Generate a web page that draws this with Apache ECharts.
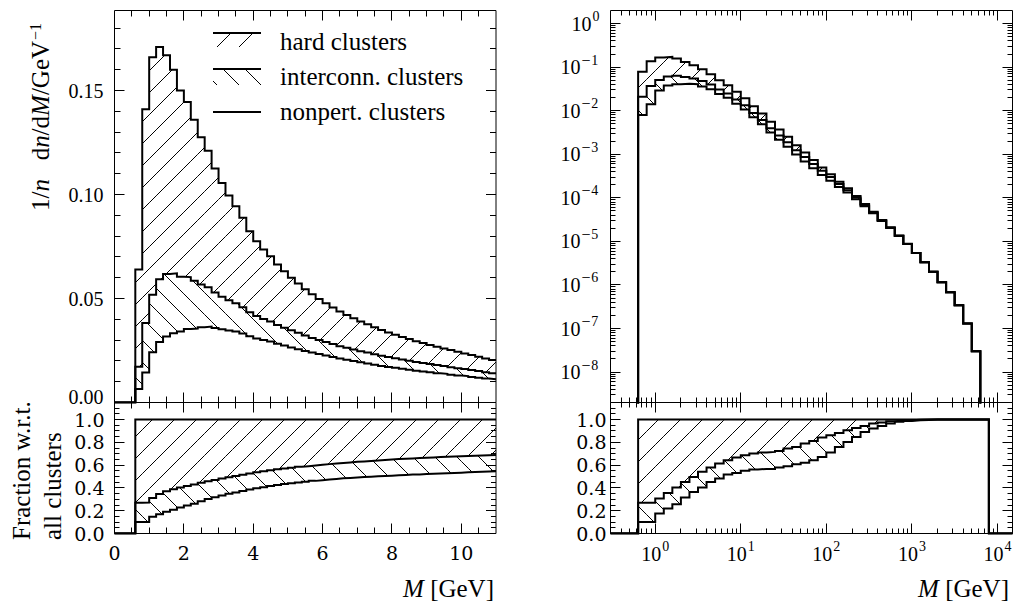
<!DOCTYPE html>
<html>
<head>
<meta charset="utf-8">
<script src="https://cdn.jsdelivr.net/npm/echarts@6/dist/echarts.min.js"></script>
<style>
html,body{margin:0;padding:0;background:#ffffff;}
#chart{width:1016px;height:605px;}
</style>
</head>
<body>
<div id="chart"></div>
<script>
// ---------------- DATA ----------------
// Left panels: linear mass bins [GeV]
const leftBinEdges = [0.6,0.8,1.0,1.2,1.4,1.6,1.8,2.0,2.2,2.4,2.6,2.8,3.0,3.2,3.4,3.6,3.8,4.0,4.2,4.4,4.6,4.8,5.0,5.2,5.4,5.6,5.8,6.0,6.2,6.4,6.6,6.8,7.0,7.2,7.4,7.6,7.8,8.0,8.2,8.4,8.6,8.8,9.0,9.2,9.4,9.6,9.8,10.0,10.2,10.4,10.6,10.8,11.0];
// 1/n dn/dM of all clusters (upper outline = hard + interconn. + nonpert.)
const leftTotal = [0.064,0.141,0.166,0.171,0.167,0.160,0.150,0.1445,0.136,0.1275,0.121,0.1125,0.1056,0.0995,0.0944,0.0888,0.0824,0.0775,0.0736,0.0703,0.0663,0.0631,0.0600,0.0572,0.0545,0.0520,0.0498,0.0477,0.0457,0.0438,0.0421,0.0405,0.0390,0.0376,0.0362,0.0349,0.0337,0.0326,0.0315,0.0305,0.0295,0.0286,0.0277,0.0268,0.0260,0.0252,0.0244,0.0236,0.0228,0.0220,0.0212,0.0204];
// interconn. + nonpert. clusters (middle outline)
const leftNonpertInterconn = [0.0172,0.0382,0.0518,0.0593,0.0618,0.0621,0.0605,0.0603,0.0586,0.0567,0.0554,0.0529,0.0509,0.0492,0.0477,0.0458,0.0434,0.0416,0.0402,0.0390,0.0373,0.0360,0.0347,0.0335,0.0322,0.0310,0.0300,0.0291,0.0281,0.0271,0.0263,0.0255,0.0247,0.0240,0.0232,0.0225,0.0219,0.0213,0.0207,0.0201,0.0195,0.0190,0.0185,0.0180,0.0175,0.0170,0.0165,0.0161,0.0156,0.0151,0.0146,0.0141];
// nonpert. clusters (lowest outline)
const leftNonpert = [0.0065,0.0144,0.0242,0.0291,0.0317,0.0333,0.0342,0.0354,0.0356,0.0362,0.0365,0.0358,0.0352,0.0346,0.0341,0.0332,0.0318,0.0308,0.0300,0.0293,0.0282,0.0274,0.0265,0.0256,0.0248,0.0240,0.0233,0.0226,0.0219,0.0212,0.0205,0.0199,0.0193,0.0188,0.0182,0.0176,0.0171,0.0167,0.0162,0.0158,0.0153,0.0149,0.0145,0.0141,0.0138,0.0134,0.0130,0.0127,0.0123,0.0119,0.0115,0.0112];
// fractions w.r.t. all clusters
const leftFracAll = [1,1,1,1,1,1,1,1,1,1,1,1,1,1,1,1,1,1,1,1,1,1,1,1,1,1,1,1,1,1,1,1,1,1,1,1,1,1,1,1,1,1,1,1,1,1,1,1,1,1,1,1];
const leftFracNonpertInterconn = [0.269,0.271,0.312,0.347,0.370,0.388,0.403,0.417,0.431,0.445,0.458,0.470,0.482,0.494,0.505,0.516,0.527,0.537,0.546,0.555,0.563,0.571,0.578,0.585,0.591,0.597,0.603,0.609,0.614,0.619,0.624,0.629,0.633,0.637,0.641,0.645,0.649,0.653,0.656,0.659,0.662,0.665,0.668,0.671,0.673,0.676,0.678,0.681,0.683,0.685,0.687,0.689];
const leftFracNonpert = [0.102,0.102,0.146,0.170,0.190,0.208,0.228,0.245,0.262,0.284,0.302,0.318,0.333,0.348,0.361,0.374,0.386,0.397,0.407,0.417,0.426,0.434,0.441,0.448,0.455,0.462,0.468,0.474,0.479,0.484,0.488,0.492,0.496,0.499,0.502,0.505,0.508,0.511,0.514,0.517,0.519,0.522,0.524,0.527,0.529,0.532,0.534,0.537,0.539,0.542,0.544,0.547];

// Right panels: logarithmic mass bins [GeV]
const rightBinEdges = [0.631,0.794,1,1.259,1.585,1.995,2.512,3.162,3.981,5.012,6.31,7.943,10,12.59,15.85,19.95,25.12,31.62,39.81,50.12,63.1,79.43,100,125.9,158.5,199.5,251.2,316.2,398.1,501.2,631,794.3,1000,1259,1585,1995,2512,3162,3981,5012,6310,7943];
const rightTotal = [0.078,0.137,0.166,0.172,0.158,0.132,0.111,0.089,0.069,0.050,0.0385,0.0271,0.0194,0.0127,0.00865,0.00556,0.00371,0.00252,0.00162,0.0011,0.00074,0.0005,0.000346,0.000234,0.000165,0.00011,7.2e-5,4.8e-5,3.1e-5,2.1e-5,1.36e-5,8.8e-6,5.4e-6,3.3e-6,2.0e-6,1.15e-6,6.8e-7,3.4e-7,1.3e-7,3.0e-8,1e-9];
const rightNonpertInterconn = [0.0210,0.0369,0.0510,0.0612,0.0637,0.0598,0.0552,0.0481,0.0400,0.0307,0.0248,0.0181,0.0133,0.00892,0.00615,0.00398,0.00269,0.00188,0.00123,0.000869,0.000602,0.000421,0.000299,0.000207,0.000149,0.000102,6.8e-5,4.63e-5,3.02e-5,2.07e-5,1.35e-5,8.76e-6,5.4e-6,3.3e-6,2.0e-6,1.15e-6,6.8e-7,3.4e-7,1.3e-7,3.0e-8,1e-9];
const rightNonpert = [0.0080,0.0140,0.0291,0.0377,0.0406,0.0417,0.0405,0.0359,0.0313,0.0241,0.0199,0.0144,0.0107,0.00712,0.0049,0.00315,0.00215,0.00149,0.000985,0.000682,0.000476,0.000336,0.000246,0.000178,0.000133,9.33e-5,6.42e-5,4.42e-5,2.93e-5,2.03e-5,1.33e-5,8.69e-6,5.4e-6,3.3e-6,2.0e-6,1.15e-6,6.8e-7,3.4e-7,1.3e-7,3.0e-8,1e-9];
const rightFracAll = [1,1,1,1,1,1,1,1,1,1,1,1,1,1,1,1,1,1,1,1,1,1,1,1,1,1,1,1,1,1,1,1,1,1,1,1,1,1,1,1,1];
const rightFracNonpertInterconn = [0.269,0.269,0.307,0.356,0.403,0.453,0.497,0.541,0.579,0.614,0.643,0.667,0.687,0.702,0.711,0.716,0.725,0.746,0.760,0.790,0.813,0.842,0.863,0.883,0.906,0.927,0.944,0.965,0.974,0.985,0.991,0.995,0.998,1,1,1,1,1,1,1,1];
const rightFracNonpert = [0.102,0.102,0.175,0.219,0.257,0.316,0.365,0.403,0.453,0.482,0.518,0.532,0.550,0.561,0.567,0.567,0.579,0.590,0.608,0.620,0.643,0.672,0.710,0.760,0.804,0.848,0.891,0.921,0.944,0.965,0.980,0.988,0.994,0.997,1,1,1,1,1,1,1];

// Tick labels
const leftYLabelDigits = 2;           // 0.00 0.05 0.10 0.15
const fracYLabelDigits = 1;           // 0.0 ... 1.0
const logXExponents = [0,1,2,3,4];
const logYExponents = [0,-1,-2,-3,-4,-5,-6,-7,-8];
const legendNames = ['hard clusters','interconn. clusters','nonpert. clusters'];

// ---------------- STYLE ----------------
const FONT = "'Liberation Serif','DejaVu Serif',serif";
const FONT_WIDE = "'DejaVu Serif','Liberation Serif',serif";
const FS_TICK = 20, FS_TICK_LOW = 19, FS_SUP = 14, FS_TITLE = 25, FS_LEG = 25;

function hatchImage(dir, p, lw) {
  const c = document.createElement('canvas');
  c.width = p; c.height = p;
  const ctx = c.getContext('2d');
  ctx.strokeStyle = '#000'; ctx.lineWidth = lw;
  ctx.beginPath();
  for (let k = -1; k <= 1; k++) {
    if (dir === '/') { ctx.moveTo(k*p - 1, p + 1); ctx.lineTo(k*p + p + 1, -1); }
    else { ctx.moveTo(k*p - 1, -1); ctx.lineTo(k*p + p + 1, p + 1); }
  }
  ctx.stroke();
  return {image: c.toDataURL(), repeat: 'repeat', imageWidth: p, imageHeight: p};
}
const HATCH_HARD = hatchImage('/', 22, 1);
const HATCH_INTER = hatchImage('\\', 22, 1);

const measureCtx = document.createElement('canvas').getContext('2d');
function textW(t, fs) { measureCtx.font = fs + 'px ' + FONT; return measureCtx.measureText(t).width; }

// ---------------- helpers ----------------
function stepData(edges, vals, lead, tail, xEnd) {
  const d = [lead];
  for (let i = 0; i < vals.length; i++) d.push([edges[i], vals[i]]);
  if (tail === undefined) d.push([edges[vals.length], vals[vals.length - 1]]);
  else { d.push([edges[vals.length], tail]); d.push([xEnd, tail]); }
  return d;
}
function outlineSeries(name, gi, data) {
  return {
    name, type: 'line', xAxisIndex: gi, yAxisIndex: gi, data, step: 'end',
    symbol: 'none', showSymbol: false, animation: false, silent: true, clip: true, z: 4,
    lineStyle: {color: '#000', width: 2, join: 'miter', cap: 'butt'}
  };
}
function bandSeries(name, gi, edges, lo, hi, pattern) {
  return {
    name, type: 'custom', xAxisIndex: gi, yAxisIndex: gi, silent: true, animation: false, z: 2, clip: false,
    encode: {x: [0, 1], y: [2, 3]},
    data: lo.map((v, i) => [edges[i], edges[i + 1], v, hi[i]]),
    renderItem: function (params, api) {
      const cs = params.coordSys;
      if (!(api.value(3) > api.value(2))) return null;
      const pA = api.coord([api.value(0), api.value(3)]);
      const pB = api.coord([api.value(1), api.value(2)]);
      const x0 = Math.max(pA[0], cs.x), x1 = Math.min(pB[0], cs.x + cs.width);
      const y0 = Math.max(pA[1], cs.y), y1 = Math.min(pB[1], cs.y + cs.height);
      if (!(x1 > x0 && y1 > y0)) return null;
      return {type: 'rect', shape: {x: x0, y: y0, width: x1 - x0, height: y1 - y0}, style: {fill: pattern, stroke: null}};
    }
  };
}
function tickSeries(gi, ticks, refX, refY) {
  return {
    type: 'custom', xAxisIndex: gi, yAxisIndex: gi, silent: true, animation: false, clip: false, z: 6,
    encode: {x: 3, y: 4},
    data: ticks.map(t => [t[0], t[1], t[2], refX, refY]),
    renderItem: function (params, api) {
      const cs = params.coordSys;
      const isY = api.value(0), v = api.value(1), len = api.value(2);
      const st = {stroke: '#000', lineWidth: 1};
      if (isY === 0) {
        const px = Math.round(api.coord([v, refY])[0] - 0.5) + 0.5;
        const yb = cs.y + cs.height, yt = cs.y;
        return {type: 'group', children: [
          {type: 'line', shape: {x1: px, y1: yb, x2: px, y2: yb - len}, style: st},
          {type: 'line', shape: {x1: px, y1: yt, x2: px, y2: yt + len}, style: st}
        ]};
      }
      const py = Math.round(api.coord([refX, v])[1] - 0.5) + 0.5;
      const xl = cs.x, xr = cs.x + cs.width;
      return {type: 'group', children: [
        {type: 'line', shape: {x1: xl, y1: py, x2: xl + len, y2: py}, style: st},
        {type: 'line', shape: {x1: xr, y1: py, x2: xr - len, y2: py}, style: st}
      ]};
    }
  };
}
function linTicks(isY, from, to, step, majorEvery, lenMaj, lenMin) {
  const out = [];
  const n = Math.round((to - from) / step);
  for (let i = 0; i <= n; i++) {
    const v = +(from + i * step).toFixed(6);
    const major = Math.abs(v / majorEvery - Math.round(v / majorEvery)) < 1e-6;
    out.push([isY, v, major ? lenMaj : lenMin]);
  }
  return out;
}
function logTicks(isY, nFrom, nTo, lo, hi, lenMaj, lenMin) {
  const out = [];
  for (let n = nFrom; n <= nTo; n++) {
    for (let m = 1; m <= 9; m++) {
      const v = m * Math.pow(10, n);
      if (v > lo * 1.0001 && v < hi * 0.9999) out.push([isY, v, m === 1 ? lenMaj : lenMin]);
    }
  }
  return out;
}
function logLabelSeries(gi, isY, exps, refX, refY) {
  return {
    type: 'custom', xAxisIndex: gi, yAxisIndex: gi, silent: true, animation: false, clip: false, z: 6,
    encode: {x: 2, y: 3},
    data: exps.map(e => [isY, e, refX, refY]),
    renderItem: function (params, api) {
      const cs = params.coordSys;
      const e = api.value(1);
      const v = Math.pow(10, e);
      const expTxt = (e < 0 ? '\u2212' : '') + Math.abs(e);
      const wB = textW('10', FS_TICK), wE = textW(expTxt, FS_SUP) + (e < 0 ? 3 : 0);
      const base = {fill: '#000', fontFamily: FONT, verticalAlign: 'middle', align: 'left'};
      let x0, yc;
      if (api.value(0) === 0) {
        const px = api.coord([v, refY])[0];
        x0 = px - (wB + wE + 1) / 2;
        yc = cs.y + cs.height + 20;
      } else {
        const py = api.coord([refX, v])[1];
        x0 = cs.x - 11 - (wB + wE + 1);
        yc = py;
      }
      const kids = [{type: 'text', x: x0, y: yc, style: Object.assign({}, base, {text: '10', fontSize: FS_TICK})}];
      if (e < 0) {
        kids.push({type: 'text', x: x0 + wB + 1, y: yc - 7, style: Object.assign({}, base, {text: '\u2212', fontSize: FS_SUP + 2})});
        kids.push({type: 'text', x: x0 + wB + 1 + textW('\u2212', FS_SUP + 2) + 0.5, y: yc - 7, style: Object.assign({}, base, {text: String(-e), fontSize: FS_SUP})});
      } else {
        kids.push({type: 'text', x: x0 + wB + 1, y: yc - 7, style: Object.assign({}, base, {text: expTxt, fontSize: FS_SUP})});
      }
      return {type: 'group', children: kids};
    }
  };
}

// ---------------- build series ----------------
const TINY = 1e-12;
const series = [
  bandSeries('interconn. clusters', 0, leftBinEdges, leftNonpert, leftNonpertInterconn, HATCH_INTER),
  bandSeries('hard clusters', 0, leftBinEdges, leftNonpertInterconn, leftTotal, HATCH_HARD),
  outlineSeries('nonpert. clusters', 0, stepData(leftBinEdges, leftNonpert, [0, 0])),
  outlineSeries('nonpert.+interconn.', 0, stepData(leftBinEdges, leftNonpertInterconn, [0, 0])),
  outlineSeries('all clusters', 0, stepData(leftBinEdges, leftTotal, [0, 0])),
  bandSeries('interconn. fraction', 1, leftBinEdges, leftFracNonpert, leftFracNonpertInterconn, HATCH_INTER),
  bandSeries('hard fraction', 1, leftBinEdges, leftFracNonpertInterconn, leftFracAll, HATCH_HARD),
  outlineSeries('nonpert. fraction', 1, stepData(leftBinEdges, leftFracNonpert, [0, 0])),
  outlineSeries('nonpert.+interconn. fraction', 1, stepData(leftBinEdges, leftFracNonpertInterconn, [0, 0])),
  outlineSeries('all fraction', 1, stepData(leftBinEdges, leftFracAll, [0, 0])),
  bandSeries('interconn. clusters (log)', 2, rightBinEdges, rightNonpert, rightNonpertInterconn, HATCH_INTER),
  bandSeries('hard clusters (log)', 2, rightBinEdges, rightNonpertInterconn, rightTotal, HATCH_HARD),
  outlineSeries('nonpert. clusters (log)', 2, stepData(rightBinEdges, rightNonpert, [0.3, TINY], TINY, 15000)),
  outlineSeries('nonpert.+interconn. (log)', 2, stepData(rightBinEdges, rightNonpertInterconn, [0.3, TINY], TINY, 15000)),
  outlineSeries('all clusters (log)', 2, stepData(rightBinEdges, rightTotal, [0.3, TINY], TINY, 15000)),
  bandSeries('interconn. fraction (log)', 3, rightBinEdges, rightFracNonpert, rightFracNonpertInterconn, HATCH_INTER),
  bandSeries('hard fraction (log)', 3, rightBinEdges, rightFracNonpertInterconn, rightFracAll, HATCH_HARD),
  outlineSeries('nonpert. fraction (log)', 3, stepData(rightBinEdges, rightFracNonpert, [0.3, 0], 0, 15000)),
  outlineSeries('nonpert.+interconn. fraction (log)', 3, stepData(rightBinEdges, rightFracNonpertInterconn, [0.3, 0], 0, 15000)),
  outlineSeries('all fraction (log)', 3, stepData(rightBinEdges, rightFracAll, [0.3, 0], 0, 15000)),
  tickSeries(0, linTicks(0, 0.5, 10.5, 0.5, 2, 10, 6).concat(linTicks(1, 0.01, 0.18, 0.01, 0.05, 10, 6)), 5, 0.1),
  tickSeries(1, linTicks(0, 0.5, 10.5, 0.5, 2, 10, 6).concat(linTicks(1, 0.05, 1.10, 0.05, 0.2, 10, 5)), 5, 0.5),
  tickSeries(2, logTicks(0, -1, 4, 0.3, 15000, 10, 5).concat(logTicks(1, -9, 0, 2e-9, 2, 10, 5)), 10, 1e-4),
  tickSeries(3, logTicks(0, -1, 4, 0.3, 15000, 10, 5).concat(linTicks(1, 0.05, 1.10, 0.05, 0.2, 10, 5)), 10, 0.5),
  logLabelSeries(2, 1, logYExponents, 10, 1e-4),
  logLabelSeries(3, 0, logXExponents, 10, 0.5)
];

// ---------------- axes ----------------
const noLine = {axisLine: {show: false}, axisTick: {show: false}, splitLine: {show: false}, minorTick: {show: false}};
const lab = (extra) => Object.assign({color: '#000', fontFamily: FONT, fontSize: FS_TICK, lineHeight: 15}, extra);
const labLow = (extra) => Object.assign({color: '#000', fontFamily: FONT_WIDE, fontSize: FS_TICK_LOW, lineHeight: 15}, extra);
// the 0.00 label sits right above the 1.0 label of the lower panel: nudge it up a little
const seamRich = {up: {fontFamily: FONT, fontSize: FS_TICK, color: '#000', padding: [0, 0, 11, 0]}};
const xAxis = [
  Object.assign({gridIndex: 0, type: 'value', min: 0, max: 11, axisLabel: {show: false}}, noLine),
  Object.assign({gridIndex: 1, type: 'value', min: 0, max: 11, interval: 2,
    axisLabel: labLow({margin: 12, showMaxLabel: false, formatter: v => String(v)})}, noLine),
  Object.assign({gridIndex: 2, type: 'log', logBase: 10, min: 0.3, max: 15000, axisLabel: {show: false}}, noLine),
  Object.assign({gridIndex: 3, type: 'log', logBase: 10, min: 0.3, max: 15000, axisLabel: {show: false}}, noLine)
];
const yAxis = [
  Object.assign({gridIndex: 0, type: 'value', min: 0, max: 0.1885, interval: 0.05,
    axisLabel: lab({margin: 11, showMaxLabel: false, rich: seamRich,
      formatter: v => v === 0 ? '{up|' + v.toFixed(leftYLabelDigits) + '}' : v.toFixed(leftYLabelDigits)})}, noLine),
  Object.assign({gridIndex: 1, type: 'value', min: 0, max: 1.15, interval: 0.2,
    axisLabel: labLow({margin: 10, showMaxLabel: false, formatter: v => v.toFixed(fracYLabelDigits)})}, noLine),
  Object.assign({gridIndex: 2, type: 'log', logBase: 10, min: 2e-9, max: 2, axisLabel: {show: false}}, noLine),
  Object.assign({gridIndex: 3, type: 'value', min: 0, max: 1.15, interval: 0.2,
    axisLabel: labLow({margin: 4, showMaxLabel: false, formatter: v => v.toFixed(fracYLabelDigits)})}, noLine)
];
const gridBase = {show: true, borderColor: '#000', borderWidth: 1, backgroundColor: 'transparent', containLabel: false, outerBoundsMode: 'none'};
const grid = [
  Object.assign({left: 114.5, top: 10.5, width: 381.5, height: 392}, gridBase),
  Object.assign({left: 114.5, top: 402.5, width: 381.5, height: 131}, gridBase),
  Object.assign({left: 610.5, top: 10.5, width: 402, height: 392}, gridBase),
  Object.assign({left: 610.5, top: 402.5, width: 402, height: 131}, gridBase)
];

// ---------------- legend + titles (graphic) ----------------
const tStyle = (extra) => Object.assign({fill: '#000', fontFamily: FONT}, extra);
const graphic = [
  {type: 'rect', shape: {x: 213, y: 33, width: 48, height: 14}, style: {fill: HATCH_HARD, stroke: null}, silent: true},
  {type: 'line', shape: {x1: 213, y1: 33, x2: 261, y2: 33}, style: {stroke: '#000', lineWidth: 2}, silent: true},
  {type: 'rect', shape: {x: 213, y: 69, width: 48, height: 16}, style: {fill: HATCH_INTER, stroke: null}, silent: true},
  {type: 'line', shape: {x1: 213, y1: 69, x2: 261, y2: 69}, style: {stroke: '#000', lineWidth: 2}, silent: true},
  {type: 'line', shape: {x1: 213, y1: 112, x2: 261, y2: 112}, style: {stroke: '#000', lineWidth: 2}, silent: true},
  {type: 'text', x: 280, y: 41, style: tStyle({text: legendNames[0], fontSize: FS_LEG, verticalAlign: 'middle'}), silent: true},
  {type: 'text', x: 280, y: 76, style: tStyle({text: legendNames[1], fontSize: FS_LEG, verticalAlign: 'middle'}), silent: true},
  {type: 'text', x: 280, y: 111, style: tStyle({text: legendNames[2], fontSize: FS_LEG, verticalAlign: 'middle'}), silent: true},
  {type: 'text', x: 40, y: 117, rotation: Math.PI / 2, silent: true,
    style: tStyle({text: '{r|1/}{i|n}{r|   d}{i|n}{r|/d}{i|M}{r|/GeV}{s|\u22121}', align: 'center', verticalAlign: 'middle',
      rich: {r: {fontSize: FS_TITLE, fontFamily: FONT}, i: {fontSize: FS_TITLE, fontFamily: FONT, fontStyle: 'italic'},
        s: {fontSize: 16, fontFamily: FONT, verticalAlign: 'top', padding: [0, 0, 10, 1]}}})},
  {type: 'text', x: 21, y: 540, rotation: Math.PI / 2, silent: true,
    style: tStyle({text: 'Fraction w.r.t.', fontSize: FS_TITLE, align: 'left', verticalAlign: 'middle'})},
  {type: 'text', x: 52, y: 540, rotation: Math.PI / 2, silent: true,
    style: tStyle({text: 'all clusters', fontSize: FS_TITLE, align: 'left', verticalAlign: 'middle'})},
  {type: 'text', x: 494, y: 588, silent: true,
    style: tStyle({text: '{i|M} [GeV]', align: 'right', verticalAlign: 'middle', fontSize: FS_TITLE,
      rich: {i: {fontStyle: 'italic', fontSize: FS_TITLE, fontFamily: FONT}}})},
  {type: 'text', x: 1009, y: 588, silent: true,
    style: tStyle({text: '{i|M} [GeV]', align: 'right', verticalAlign: 'middle', fontSize: FS_TITLE,
      rich: {i: {fontStyle: 'italic', fontSize: FS_TITLE, fontFamily: FONT}}})}
];

const chart = echarts.init(document.getElementById('chart'), null, {renderer: 'svg', width: 1016, height: 605});
chart.setOption({backgroundColor: '#ffffff', animation: false, grid, xAxis, yAxis, series, graphic});
</script>
</body>
</html>
